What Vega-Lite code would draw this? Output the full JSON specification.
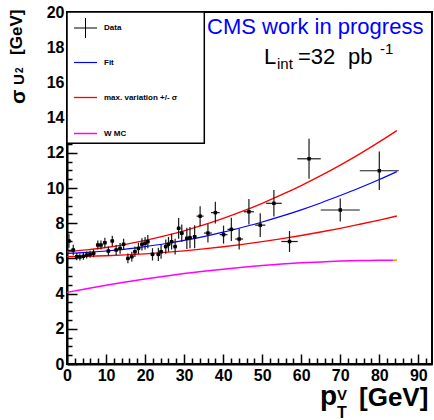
{
  "$schema": "https://vega.github.io/schema/vega-lite/v6.json",
  "autosize": {"type": "none"},
  "width": 365,
  "height": 352,
  "padding": {"left": 67, "top": 12, "right": 2, "bottom": 56},
  "background": "white",
  "config": {
    "font": "Liberation Sans",
    "view": {"stroke": "#000000", "strokeWidth": 2},
    "axis": {"grid": false, "title": null}
  },
  "data": {"values": [{}]},
  "datasets": {
    "pts": [
      {"x": 0.5, "y": 6.99, "ex": 0.5, "ey": 0.38},
      {"x": 1.6, "y": 6.48, "ex": 0.5, "ey": 0.3},
      {"x": 2.5, "y": 6.1, "ex": 0.5, "ey": 0.2},
      {"x": 3.3, "y": 6.08, "ex": 0.5, "ey": 0.2},
      {"x": 4.2, "y": 6.12, "ex": 0.5, "ey": 0.2},
      {"x": 5.05, "y": 6.19, "ex": 0.5, "ey": 0.2},
      {"x": 5.9, "y": 6.23, "ex": 0.5, "ey": 0.2},
      {"x": 6.8, "y": 6.29, "ex": 0.5, "ey": 0.22},
      {"x": 7.9, "y": 6.76, "ex": 0.5, "ey": 0.25},
      {"x": 8.7, "y": 6.76, "ex": 0.5, "ey": 0.25},
      {"x": 9.7, "y": 6.89, "ex": 0.5, "ey": 0.28},
      {"x": 10.6, "y": 6.42, "ex": 0.5, "ey": 0.25},
      {"x": 11.6, "y": 6.99, "ex": 0.5, "ey": 0.3},
      {"x": 12.6, "y": 6.48, "ex": 0.5, "ey": 0.28},
      {"x": 13.6, "y": 6.57, "ex": 0.5, "ey": 0.3},
      {"x": 14.5, "y": 6.8, "ex": 0.5, "ey": 0.32},
      {"x": 15.6, "y": 6.0, "ex": 0.5, "ey": 0.28},
      {"x": 16.6, "y": 6.1, "ex": 0.5, "ey": 0.28},
      {"x": 17.4, "y": 6.38, "ex": 0.5, "ey": 0.3},
      {"x": 18.3, "y": 6.57, "ex": 0.5, "ey": 0.32},
      {"x": 19.2, "y": 6.8, "ex": 0.5, "ey": 0.35},
      {"x": 20.0, "y": 6.86, "ex": 0.5, "ey": 0.35},
      {"x": 20.7, "y": 6.95, "ex": 0.5, "ey": 0.38},
      {"x": 21.9, "y": 6.23, "ex": 0.5, "ey": 0.35},
      {"x": 23.4, "y": 6.23, "ex": 0.5, "ey": 0.38},
      {"x": 24.1, "y": 6.38, "ex": 0.5, "ey": 0.4},
      {"x": 25.3, "y": 6.67, "ex": 0.5, "ey": 0.4},
      {"x": 26.0, "y": 6.8, "ex": 0.5, "ey": 0.42},
      {"x": 26.8, "y": 6.95, "ex": 0.5, "ey": 0.45},
      {"x": 27.7, "y": 6.67, "ex": 0.5, "ey": 0.45},
      {"x": 28.6, "y": 7.71, "ex": 0.5, "ey": 0.59},
      {"x": 29.4, "y": 7.43, "ex": 0.5, "ey": 0.5},
      {"x": 30.7, "y": 7.14, "ex": 0.5, "ey": 0.6},
      {"x": 31.5, "y": 7.18, "ex": 0.5, "ey": 0.6},
      {"x": 32.7, "y": 7.23, "ex": 0.5, "ey": 0.66},
      {"x": 34.1, "y": 8.4, "ex": 0.9, "ey": 0.57},
      {"x": 36.1, "y": 7.44, "ex": 1.0, "ey": 0.53},
      {"x": 38.0, "y": 8.6, "ex": 1.1, "ey": 0.62},
      {"x": 40.1, "y": 7.35, "ex": 1.0, "ey": 0.51},
      {"x": 42.1, "y": 7.65, "ex": 1.0, "ey": 0.66},
      {"x": 44.1, "y": 7.1, "ex": 1.0, "ey": 0.6},
      {"x": 46.6, "y": 8.65, "ex": 1.3, "ey": 0.73},
      {"x": 49.5, "y": 7.89, "ex": 1.3, "ey": 0.68},
      {"x": 53.0, "y": 9.13, "ex": 2.0, "ey": 0.75},
      {"x": 57.0, "y": 6.96, "ex": 2.1, "ey": 0.6},
      {"x": 62.0, "y": 11.66, "ex": 3.0, "ey": 1.14},
      {"x": 70.0, "y": 8.75, "ex": 5.0, "ey": 0.65},
      {"x": 80.0, "y": 10.98, "ex": 5.0, "ey": 1.09}
    ],
    "curves": [
      {"series": "max. variation +/- σ", "curve": "up", "x": 0, "y": 6.38},
      {"series": "max. variation +/- σ", "curve": "up", "x": 5, "y": 6.48},
      {"series": "max. variation +/- σ", "curve": "up", "x": 10, "y": 6.62},
      {"series": "max. variation +/- σ", "curve": "up", "x": 15, "y": 6.8},
      {"series": "max. variation +/- σ", "curve": "up", "x": 20, "y": 7.02},
      {"series": "max. variation +/- σ", "curve": "up", "x": 25, "y": 7.28},
      {"series": "max. variation +/- σ", "curve": "up", "x": 30, "y": 7.57},
      {"series": "max. variation +/- σ", "curve": "up", "x": 35, "y": 7.9},
      {"series": "max. variation +/- σ", "curve": "up", "x": 40, "y": 8.27},
      {"series": "max. variation +/- σ", "curve": "up", "x": 45, "y": 8.68},
      {"series": "max. variation +/- σ", "curve": "up", "x": 50, "y": 9.13},
      {"series": "max. variation +/- σ", "curve": "up", "x": 55, "y": 9.62},
      {"series": "max. variation +/- σ", "curve": "up", "x": 60, "y": 10.14},
      {"series": "max. variation +/- σ", "curve": "up", "x": 65, "y": 10.7},
      {"series": "max. variation +/- σ", "curve": "up", "x": 70, "y": 11.3},
      {"series": "max. variation +/- σ", "curve": "up", "x": 75, "y": 11.94},
      {"series": "max. variation +/- σ", "curve": "up", "x": 80, "y": 12.62},
      {"series": "max. variation +/- σ", "curve": "up", "x": 84.5, "y": 13.26},
      {"series": "Fit", "curve": "fit", "x": 0, "y": 6.29},
      {"series": "Fit", "curve": "fit", "x": 5, "y": 6.34},
      {"series": "Fit", "curve": "fit", "x": 10, "y": 6.42},
      {"series": "Fit", "curve": "fit", "x": 15, "y": 6.53},
      {"series": "Fit", "curve": "fit", "x": 20, "y": 6.67},
      {"series": "Fit", "curve": "fit", "x": 25, "y": 6.83},
      {"series": "Fit", "curve": "fit", "x": 30, "y": 7.02},
      {"series": "Fit", "curve": "fit", "x": 35, "y": 7.24},
      {"series": "Fit", "curve": "fit", "x": 40, "y": 7.49},
      {"series": "Fit", "curve": "fit", "x": 45, "y": 7.77},
      {"series": "Fit", "curve": "fit", "x": 50, "y": 8.07},
      {"series": "Fit", "curve": "fit", "x": 55, "y": 8.4},
      {"series": "Fit", "curve": "fit", "x": 60, "y": 8.76},
      {"series": "Fit", "curve": "fit", "x": 65, "y": 9.15},
      {"series": "Fit", "curve": "fit", "x": 70, "y": 9.57},
      {"series": "Fit", "curve": "fit", "x": 75, "y": 10.01},
      {"series": "Fit", "curve": "fit", "x": 80, "y": 10.48},
      {"series": "Fit", "curve": "fit", "x": 84.5, "y": 10.93},
      {"series": "max. variation +/- σ", "curve": "lo", "x": 0, "y": 6.1},
      {"series": "max. variation +/- σ", "curve": "lo", "x": 5, "y": 6.12},
      {"series": "max. variation +/- σ", "curve": "lo", "x": 10, "y": 6.15},
      {"series": "max. variation +/- σ", "curve": "lo", "x": 15, "y": 6.2},
      {"series": "max. variation +/- σ", "curve": "lo", "x": 20, "y": 6.26},
      {"series": "max. variation +/- σ", "curve": "lo", "x": 25, "y": 6.34},
      {"series": "max. variation +/- σ", "curve": "lo", "x": 30, "y": 6.43},
      {"series": "max. variation +/- σ", "curve": "lo", "x": 35, "y": 6.54},
      {"series": "max. variation +/- σ", "curve": "lo", "x": 40, "y": 6.66},
      {"series": "max. variation +/- σ", "curve": "lo", "x": 45, "y": 6.8},
      {"series": "max. variation +/- σ", "curve": "lo", "x": 50, "y": 6.95},
      {"series": "max. variation +/- σ", "curve": "lo", "x": 55, "y": 7.12},
      {"series": "max. variation +/- σ", "curve": "lo", "x": 60, "y": 7.3},
      {"series": "max. variation +/- σ", "curve": "lo", "x": 65, "y": 7.5},
      {"series": "max. variation +/- σ", "curve": "lo", "x": 70, "y": 7.71},
      {"series": "max. variation +/- σ", "curve": "lo", "x": 75, "y": 7.94},
      {"series": "max. variation +/- σ", "curve": "lo", "x": 80, "y": 8.18},
      {"series": "max. variation +/- σ", "curve": "lo", "x": 84.5, "y": 8.41},
      {"series": "W MC", "curve": "wmc", "x": 0, "y": 4.07},
      {"series": "W MC", "curve": "wmc", "x": 5, "y": 4.28},
      {"series": "W MC", "curve": "wmc", "x": 10, "y": 4.48},
      {"series": "W MC", "curve": "wmc", "x": 15, "y": 4.66},
      {"series": "W MC", "curve": "wmc", "x": 20, "y": 4.83},
      {"series": "W MC", "curve": "wmc", "x": 25, "y": 4.99},
      {"series": "W MC", "curve": "wmc", "x": 30, "y": 5.14},
      {"series": "W MC", "curve": "wmc", "x": 35, "y": 5.27},
      {"series": "W MC", "curve": "wmc", "x": 40, "y": 5.39},
      {"series": "W MC", "curve": "wmc", "x": 45, "y": 5.5},
      {"series": "W MC", "curve": "wmc", "x": 50, "y": 5.59},
      {"series": "W MC", "curve": "wmc", "x": 55, "y": 5.68},
      {"series": "W MC", "curve": "wmc", "x": 60, "y": 5.75},
      {"series": "W MC", "curve": "wmc", "x": 65, "y": 5.8},
      {"series": "W MC", "curve": "wmc", "x": 70, "y": 5.85},
      {"series": "W MC", "curve": "wmc", "x": 75, "y": 5.88},
      {"series": "W MC", "curve": "wmc", "x": 80, "y": 5.9},
      {"series": "W MC", "curve": "wmc", "x": 83.6, "y": 5.9}
    ],
    "tail": [
      {"x": 83.6, "y": 5.9},
      {"x": 84.5, "y": 5.9}
    ]
  },
  "resolve": {"axis": {"x": "independent", "y": "independent"}},
  "layer": [
    {
      "mark": {"type": "rect", "fill": "white", "stroke": "#000000", "strokeWidth": 1.5},
      "encoding": {
        "x": {"datum": 0, "type": "quantitative", "scale": {"domain": [0, 93.5], "nice": false, "zero": false}, "axis": null},
        "x2": {"datum": 35.17},
        "y": {"datum": 12.54, "type": "quantitative", "scale": {"domain": [0, 20], "nice": false}, "axis": null},
        "y2": {"datum": 20}
      }
    },
    {
      "data": {"name": "curves"},
      "mark": {"type": "line", "interpolate": "monotone"},
      "encoding": {
        "x": {"field": "x", "type": "quantitative",
          "axis": {"orient": "bottom", "values": [0, 10, 20, 30, 40, 50, 60, 70, 80, 90],
            "ticks": false, "domainColor": "#000000", "domainWidth": 2,
            "labelFont": "Liberation Sans", "labelFontWeight": "bold", "labelFontSize": 16,
            "labelColor": "#000000", "labelPadding": 3, "labelFlush": false, "labelOverlap": false}},
        "y": {"field": "y", "type": "quantitative",
          "axis": {"orient": "left", "values": [0, 2, 4, 6, 8, 10, 12, 14, 16, 18, 20],
            "ticks": false, "domainColor": "#000000", "domainWidth": 2,
            "labelFont": "Liberation Sans", "labelFontWeight": "bold", "labelFontSize": 16,
            "labelColor": "#000000", "labelPadding": 3, "labelFlush": false, "labelOverlap": false}},
        "detail": {"field": "curve"},
        "color": {"field": "series", "type": "nominal",
          "scale": {"domain": ["Data", "Fit", "max. variation +/- σ", "W MC"],
                    "range": ["#000000", "#0000ff", "#ff0000", "#ff00ff"]},
          "legend": {
            "orient": "top-left", "offset": 0, "padding": 4, "title": null,
            "symbolType": "stroke", "symbolSize": 529, "symbolStrokeWidth": 2, "symbolOffset": 2,
            "labelFont": "Liberation Sans", "labelFontWeight": "bold", "labelFontSize": 8,
            "labelColor": "#000000", "labelOffset": 6, "rowPadding": 9,
            "encode": {"symbols": {"update": {
              "shape": {"signal": "datum.value === 'Data' ? 'M-1,0H1M0,-0.87V0.87' : 'M-1,0H1M0,-0.87L0,-0.87M0,0.87L0,0.87'"},
              "strokeWidth": {"signal": "datum.value === 'Data' ? 1.2 : (datum.value === 'Fit' ? 1.5 : 2)"}
            }}}
          }},
        "strokeWidth": {"field": "series", "type": "nominal",
          "scale": {"domain": ["Data", "Fit", "max. variation +/- σ", "W MC"], "range": [1, 1.5, 2.2, 2.2]},
          "legend": null}
      }
    },
    {
      "data": {"name": "tail"},
      "mark": {"type": "line", "color": "#ffa500", "strokeWidth": 2},
      "encoding": {
        "x": {"field": "x", "type": "quantitative",
          "axis": {"orient": "bottom", "offset": -6, "values": [2, 4, 6, 8, 12, 14, 16, 18, 22, 24, 26, 28, 32, 34, 36, 38, 42, 44, 46, 48, 52, 54, 56, 58, 62, 64, 66, 68, 72, 74, 76, 78, 82, 84, 86, 88, 92],
            "tickSize": 6, "tickWidth": 1.5, "tickColor": "#000000", "labels": false, "domain": false}},
        "y": {"field": "y", "type": "quantitative",
          "axis": {"orient": "left", "offset": -5, "values": [0.5, 1, 1.5, 2.5, 3, 3.5, 4.5, 5, 5.5, 6.5, 7, 7.5, 8.5, 9, 9.5, 10.5, 11, 11.5, 12.5, 13, 13.5, 14.5, 15, 15.5, 16.5, 17, 17.5, 18.5, 19, 19.5],
            "tickSize": 5, "tickWidth": 1.5, "tickColor": "#000000", "labels": false, "domain": false}}
      }
    },
    {
      "data": {"name": "pts"},
      "mark": {"type": "errorbar", "color": "#1a1a1a", "thickness": 1.2},
      "encoding": {
        "x": {"field": "x", "type": "quantitative", "axis": null},
        "xError": {"field": "ex"},
        "y": {"field": "y", "type": "quantitative", "axis": null}
      }
    },
    {
      "data": {"name": "pts"},
      "mark": {"type": "errorbar", "color": "#1a1a1a", "thickness": 1.2},
      "encoding": {
        "x": {"field": "x", "type": "quantitative", "axis": null},
        "y": {"field": "y", "type": "quantitative", "axis": null},
        "yError": {"field": "ey"}
      }
    },
    {
      "data": {"name": "pts"},
      "mark": {"type": "square", "size": 12, "color": "#000000", "opacity": 1, "filled": true},
      "encoding": {
        "x": {"field": "x", "type": "quantitative",
          "axis": {"orient": "bottom", "offset": -10, "values": [0, 10, 20, 30, 40, 50, 60, 70, 80, 90],
            "tickSize": 10, "tickWidth": 1.5, "tickColor": "#000000", "labels": false, "domain": false}},
        "y": {"field": "y", "type": "quantitative",
          "axis": {"orient": "left", "offset": -10, "values": [0, 2, 4, 6, 8, 10, 12, 14, 16, 18, 20],
            "tickSize": 10, "tickWidth": 1.5, "tickColor": "#000000", "labels": false, "domain": false}}
      }
    },
    {
      "mark": {"type": "text", "text": "CMS work in progress", "align": "left", "baseline": "alphabetic", "font": "Liberation Sans", "fontSize": 22, "color": "#0000ff"},
      "encoding": {"x": {"datum": 35.86, "type": "quantitative", "axis": null}, "y": {"datum": 18.75, "type": "quantitative", "axis": null}}
    },
    {
      "mark": {"type": "text", "text": "L", "align": "left", "baseline": "alphabetic", "font": "Liberation Sans", "fontSize": 22, "color": "#000000"},
      "encoding": {"x": {"datum": 50.46, "type": "quantitative", "axis": null}, "y": {"datum": 17.05, "type": "quantitative", "axis": null}}
    },
    {
      "mark": {"type": "text", "text": "int", "align": "left", "baseline": "alphabetic", "font": "Liberation Sans", "fontSize": 15, "color": "#000000"},
      "encoding": {"x": {"datum": 53.79, "type": "quantitative", "axis": null}, "y": {"datum": 16.76, "type": "quantitative", "axis": null}}
    },
    {
      "mark": {"type": "text", "text": "=32", "align": "left", "baseline": "alphabetic", "font": "Liberation Sans", "fontSize": 22, "color": "#000000"},
      "encoding": {"x": {"datum": 59.17, "type": "quantitative", "axis": null}, "y": {"datum": 17.05, "type": "quantitative", "axis": null}}
    },
    {
      "mark": {"type": "text", "text": "pb", "align": "left", "baseline": "alphabetic", "font": "Liberation Sans", "fontSize": 22, "color": "#000000"},
      "encoding": {"x": {"datum": 71.98, "type": "quantitative", "axis": null}, "y": {"datum": 17.05, "type": "quantitative", "axis": null}}
    },
    {
      "mark": {"type": "text", "text": "-1", "align": "left", "baseline": "alphabetic", "font": "Liberation Sans", "fontSize": 15, "color": "#000000"},
      "encoding": {"x": {"datum": 80.17, "type": "quantitative", "axis": null}, "y": {"datum": 17.61, "type": "quantitative", "axis": null}}
    },
    {
      "mark": {"type": "text", "text": "[GeV]", "angle": 270, "align": "left", "baseline": "alphabetic", "font": "Liberation Sans", "fontWeight": "bold", "fontSize": 17, "color": "#000000"},
      "encoding": {"x": {"datum": -11.53, "type": "quantitative", "axis": null}, "y": {"datum": 17.56, "type": "quantitative", "axis": null}}
    },
    {
      "mark": {"type": "text", "text": "σ", "angle": 270, "align": "left", "baseline": "alphabetic", "font": "Liberation Sans", "fontWeight": "bold", "fontSize": 21, "color": "#000000"},
      "encoding": {"x": {"datum": -10.76, "type": "quantitative", "axis": null}, "y": {"datum": 14.77, "type": "quantitative", "axis": null}}
    },
    {
      "mark": {"type": "text", "text": "U", "angle": 270, "align": "left", "baseline": "alphabetic", "font": "Liberation Sans", "fontWeight": "bold", "fontSize": 15, "color": "#000000"},
      "encoding": {"x": {"datum": -11.14, "type": "quantitative", "axis": null}, "y": {"datum": 15.85, "type": "quantitative", "axis": null}}
    },
    {
      "mark": {"type": "text", "text": "2", "angle": 270, "align": "left", "baseline": "alphabetic", "font": "Liberation Sans", "fontWeight": "bold", "fontSize": 10, "color": "#000000"},
      "encoding": {"x": {"datum": -11.27, "type": "quantitative", "axis": null}, "y": {"datum": 16.53, "type": "quantitative", "axis": null}}
    },
    {
      "mark": {"type": "text", "text": "p", "align": "left", "baseline": "alphabetic", "font": "Liberation Sans", "fontWeight": "bold", "fontSize": 28, "color": "#000000"},
      "encoding": {"x": {"datum": 64.82, "type": "quantitative", "axis": null}, "y": {"datum": -2.33, "type": "quantitative", "axis": null}}
    },
    {
      "mark": {"type": "text", "text": "V", "align": "left", "baseline": "alphabetic", "font": "Liberation Sans", "fontWeight": "bold", "fontSize": 15, "color": "#000000"},
      "encoding": {"x": {"datum": 69.16, "type": "quantitative", "axis": null}, "y": {"datum": -2.05, "type": "quantitative", "axis": null}}
    },
    {
      "mark": {"type": "text", "text": "T", "align": "left", "baseline": "alphabetic", "font": "Liberation Sans", "fontWeight": "bold", "fontSize": 16, "color": "#000000"},
      "encoding": {"x": {"datum": 69.16, "type": "quantitative", "axis": null}, "y": {"datum": -3.07, "type": "quantitative", "axis": null}}
    },
    {
      "mark": {"type": "text", "text": "[GeV]", "align": "left", "baseline": "alphabetic", "font": "Liberation Sans", "fontWeight": "bold", "fontSize": 26, "color": "#000000"},
      "encoding": {"x": {"datum": 74.8, "type": "quantitative", "axis": null}, "y": {"datum": -2.39, "type": "quantitative", "axis": null}}
    }
  ]
}
